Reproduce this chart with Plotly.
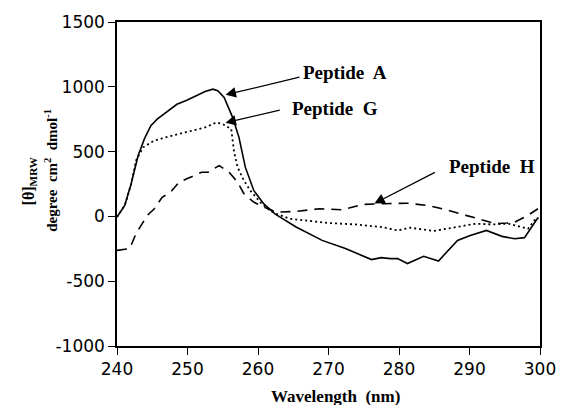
import plotly.graph_objects as go

# Peptide A (solid)
a_x = [240, 241.1, 242, 243, 243.9, 244.8, 245.7, 246.9, 248.5, 249.9, 251.3, 252.5, 253.6, 254.3,
       255.2, 256.4, 257.3, 258.2, 259.4, 260.8, 262.4, 265.4, 269.1, 272.4, 276.1, 277.5, 278.8,
       279.8, 281.2, 283.5, 285.6, 288.3, 290, 292.4, 294.6, 296.4, 297.8, 298.8, 299.7]
a_y = [-5, 85, 250, 470, 600, 700, 750, 800, 865, 897, 930, 964, 982, 970,
       918, 764, 610, 380, 200, 98, 20, -82, -185, -248, -333, -318, -326,
       -326, -364, -308, -344, -185, -150, -108, -154, -172, -164, -82, -10]

# Peptide G (dotted)
g_x = [240, 241.1, 242, 242.7, 243.7, 245.3, 246.9, 248.8, 250.6, 252.5, 254.1, 255, 256.2, 256.6,
       257.1, 258, 258.9, 260.3, 261.7, 262.6, 264.5, 267.3, 270, 273.8, 277.5, 279.8, 281.6,
       284.9, 286.7, 288.6, 290.9, 293.2, 295.5, 297.4, 298.3, 299.2, 299.8]
g_y = [-5, 85, 250, 431, 533, 585, 610, 636, 662, 687, 725, 713, 674, 500,
       380, 277, 200, 110, 46, 20, -18, -36, -51, -62, -82, -108, -87,
       -113, -95, -74, -56, -62, -56, -82, -95, -31, -10]

# Peptide H (dashed)
h_x = [240, 241.8, 242.7, 244.3, 245.3, 246.4, 247.6, 248.8, 249.9, 252, 252.9, 254.5, 255.9,
       257.1, 258, 259.4, 260.8, 262.6, 265.4, 268.7, 271.9, 274.9, 277.9, 281.2, 284, 286.7,
       289.5, 290.4, 292.5, 293.7, 295.3, 296.4, 298.3, 299.7]
h_y = [-262, -248, -133, 8, 59, 148, 187, 264, 290, 341, 341, 392, 341,
       264, 175, 110, 72, 33, 38, 59, 51, 92, 98, 102, 85, 51,
       8, -5, -36, -56, -51, -44, 8, 59]

x_ticks = [240, 250, 260, 270, 280, 290, 300]
y_ticks = [-1000, -500, 0, 500, 1000, 1500]
y_tick_text = ["-1000", "-500", "0", "500", "1000", "1500"]

labels = ["Peptide  A", "Peptide  G", "Peptide  H"]
label_pos = [(266.1, 1108), (264.6, 831), (286.8, 385)]
arrow_tail = [(266.1, 1077), (263.3, 823), (285.3, 346)]
arrow_tip = [(255.4, 938), (255.4, 723), (276.5, 100)]

serif = "Liberation Serif"
sans = "DejaVu Sans"

fig = go.Figure()
fig.add_trace(go.Scatter(x=a_x, y=a_y, mode="lines", line=dict(color="black", width=1.6)))
fig.add_trace(go.Scatter(x=g_x, y=g_y, mode="lines", line=dict(color="black", width=1.8, dash="2px,3px")))
fig.add_trace(go.Scatter(x=h_x, y=h_y, mode="lines", line=dict(color="black", width=1.6, dash="10px,7px")))

for lab, (lx, ly), (tx, ty), (hx, hy) in zip(labels, label_pos, arrow_tail, arrow_tip):
    fig.add_annotation(x=lx, y=ly, text="<b>%s</b>" % lab, showarrow=False, xanchor="left",
                       yanchor="middle", font=dict(family=serif, size=19, color="black"))
    fig.add_annotation(x=hx, y=hy, ax=tx, ay=ty, axref="x", ayref="y", text="", showarrow=True,
                       arrowhead=2, arrowsize=1.6, arrowwidth=1.3, arrowcolor="black", standoff=0)

fig.add_annotation(xref="paper", yref="paper", x=-0.208, y=0.508, xanchor="center", yanchor="middle",
                   textangle=-90, showarrow=False,
                   text="<b>[θ]<sub>MRW</sub></b>",
                   font=dict(family=serif, size=16, color="black"))
fig.add_annotation(xref="paper", yref="paper", x=-0.155, y=0.542, xanchor="center", yanchor="middle",
                   textangle=-90, showarrow=False,
                   text="<b>degree  cm<sup>2</sup>  dmol<sup>-1</sup></b>",
                   font=dict(family=serif, size=15, color="black"))
fig.add_annotation(xref="paper", yref="paper", x=0.516, y=-0.157, xanchor="center", yanchor="middle",
                   showarrow=False, text="<b>Wavelength  (nm)</b>",
                   font=dict(family=serif, size=17, color="black"))

fig.update_layout(
    width=568, height=405,
    margin=dict(l=117, r=20, t=21, b=59),
    plot_bgcolor="white", paper_bgcolor="white",
    showlegend=False,
    xaxis=dict(range=[240, 300], tickvals=x_ticks, ticks="outside", ticklen=7, tickwidth=1.3,
               tickcolor="black", showline=True, linecolor="black", linewidth=1.5, mirror=True,
               showgrid=False, zeroline=False, tickfont=dict(family=sans, size=17, color="black")),
    yaxis=dict(range=[-1000, 1500], tickvals=y_ticks, ticktext=y_tick_text, ticks="outside",
               ticklen=7, tickwidth=1.3,
               tickcolor="black", showline=True, linecolor="black", linewidth=1.5, mirror=True,
               showgrid=False, zeroline=False, tickfont=dict(family=sans, size=17, color="black")),
)

fig.write_html("out.html")
